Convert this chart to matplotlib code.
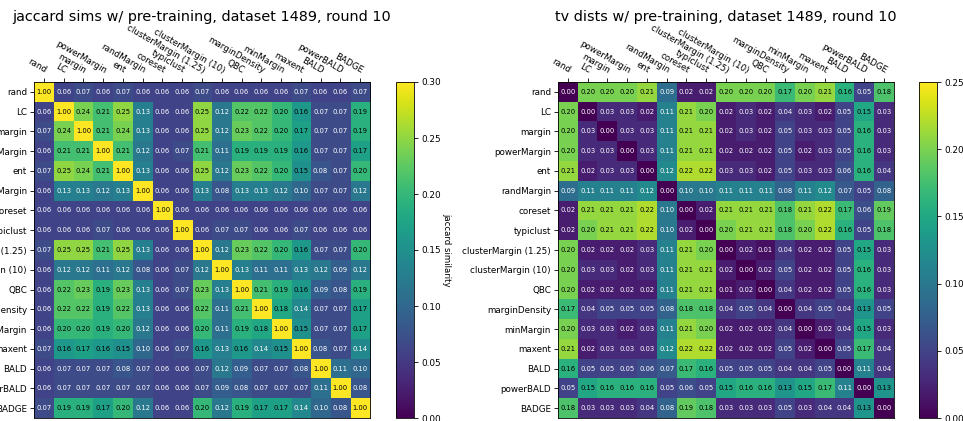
import numpy as np
import matplotlib
matplotlib.use("Agg")
import matplotlib.pyplot as plt

# sampling strategies (rows and columns of both heatmaps)
strategies = ["rand", "LC", "margin", "powerMargin", "ent", "randMargin",
              "coreset", "typiclust", "clusterMargin (1.25)", "clusterMargin (10)",
              "QBC", "marginDensity", "minMargin", "maxent", "BALD", "powerBALD",
              "BADGE"]

# pairwise jaccard similarity of the selected batches
jaccard = np.array([
    [1.00, 0.06, 0.07, 0.06, 0.07, 0.06, 0.06, 0.06, 0.07, 0.06, 0.06, 0.06, 0.06, 0.07, 0.06, 0.06, 0.07],
    [0.06, 1.00, 0.24, 0.21, 0.25, 0.13, 0.06, 0.06, 0.25, 0.12, 0.22, 0.22, 0.20, 0.16, 0.07, 0.07, 0.19],
    [0.07, 0.24, 1.00, 0.21, 0.24, 0.13, 0.06, 0.06, 0.25, 0.12, 0.23, 0.22, 0.20, 0.17, 0.07, 0.07, 0.19],
    [0.06, 0.21, 0.21, 1.00, 0.21, 0.12, 0.06, 0.07, 0.21, 0.11, 0.19, 0.19, 0.19, 0.16, 0.07, 0.07, 0.17],
    [0.07, 0.25, 0.24, 0.21, 1.00, 0.13, 0.06, 0.06, 0.25, 0.12, 0.23, 0.22, 0.20, 0.15, 0.08, 0.07, 0.20],
    [0.06, 0.13, 0.13, 0.12, 0.13, 1.00, 0.06, 0.06, 0.13, 0.08, 0.13, 0.13, 0.12, 0.10, 0.07, 0.07, 0.12],
    [0.06, 0.06, 0.06, 0.06, 0.06, 0.06, 1.00, 0.06, 0.06, 0.06, 0.06, 0.06, 0.06, 0.06, 0.06, 0.06, 0.06],
    [0.06, 0.06, 0.06, 0.07, 0.06, 0.06, 0.06, 1.00, 0.06, 0.07, 0.07, 0.06, 0.06, 0.07, 0.06, 0.06, 0.06],
    [0.07, 0.25, 0.25, 0.21, 0.25, 0.13, 0.06, 0.06, 1.00, 0.12, 0.23, 0.22, 0.20, 0.16, 0.07, 0.07, 0.20],
    [0.06, 0.12, 0.12, 0.11, 0.12, 0.08, 0.06, 0.07, 0.12, 1.00, 0.13, 0.11, 0.11, 0.13, 0.12, 0.09, 0.12],
    [0.06, 0.22, 0.23, 0.19, 0.23, 0.13, 0.06, 0.07, 0.23, 0.13, 1.00, 0.21, 0.19, 0.16, 0.09, 0.08, 0.19],
    [0.06, 0.22, 0.22, 0.19, 0.22, 0.13, 0.06, 0.06, 0.22, 0.11, 0.21, 1.00, 0.18, 0.14, 0.07, 0.07, 0.17],
    [0.06, 0.20, 0.20, 0.19, 0.20, 0.12, 0.06, 0.06, 0.20, 0.11, 0.19, 0.18, 1.00, 0.15, 0.07, 0.07, 0.17],
    [0.07, 0.16, 0.17, 0.16, 0.15, 0.10, 0.06, 0.07, 0.16, 0.13, 0.16, 0.14, 0.15, 1.00, 0.08, 0.07, 0.14],
    [0.06, 0.07, 0.07, 0.07, 0.08, 0.07, 0.06, 0.06, 0.07, 0.12, 0.09, 0.07, 0.07, 0.08, 1.00, 0.11, 0.10],
    [0.06, 0.07, 0.07, 0.07, 0.07, 0.07, 0.06, 0.06, 0.07, 0.09, 0.08, 0.07, 0.07, 0.07, 0.11, 1.00, 0.08],
    [0.07, 0.19, 0.19, 0.17, 0.20, 0.12, 0.06, 0.06, 0.20, 0.12, 0.19, 0.17, 0.17, 0.14, 0.10, 0.08, 1.00],
])

# pairwise total variation distance of the label distributions
tv_dist = np.array([
    [0.00, 0.20, 0.20, 0.20, 0.21, 0.09, 0.02, 0.02, 0.20, 0.20, 0.20, 0.17, 0.20, 0.21, 0.16, 0.05, 0.18],
    [0.20, 0.00, 0.03, 0.03, 0.02, 0.11, 0.21, 0.20, 0.02, 0.03, 0.02, 0.04, 0.03, 0.02, 0.05, 0.15, 0.03],
    [0.20, 0.03, 0.00, 0.03, 0.03, 0.11, 0.21, 0.21, 0.02, 0.03, 0.02, 0.05, 0.03, 0.03, 0.05, 0.16, 0.03],
    [0.20, 0.03, 0.03, 0.00, 0.03, 0.11, 0.21, 0.21, 0.02, 0.02, 0.02, 0.05, 0.02, 0.03, 0.05, 0.16, 0.03],
    [0.21, 0.02, 0.03, 0.03, 0.00, 0.12, 0.22, 0.22, 0.03, 0.03, 0.02, 0.05, 0.03, 0.03, 0.06, 0.16, 0.04],
    [0.09, 0.11, 0.11, 0.11, 0.12, 0.00, 0.10, 0.10, 0.11, 0.11, 0.11, 0.08, 0.11, 0.12, 0.07, 0.05, 0.08],
    [0.02, 0.21, 0.21, 0.21, 0.22, 0.10, 0.00, 0.02, 0.21, 0.21, 0.21, 0.18, 0.21, 0.22, 0.17, 0.06, 0.19],
    [0.02, 0.20, 0.21, 0.21, 0.22, 0.10, 0.02, 0.00, 0.20, 0.21, 0.21, 0.18, 0.20, 0.22, 0.16, 0.05, 0.18],
    [0.20, 0.02, 0.02, 0.02, 0.03, 0.11, 0.21, 0.20, 0.00, 0.02, 0.01, 0.04, 0.02, 0.02, 0.05, 0.15, 0.03],
    [0.20, 0.03, 0.03, 0.02, 0.03, 0.11, 0.21, 0.21, 0.02, 0.00, 0.02, 0.05, 0.02, 0.02, 0.05, 0.16, 0.03],
    [0.20, 0.02, 0.02, 0.02, 0.02, 0.11, 0.21, 0.21, 0.01, 0.02, 0.00, 0.04, 0.02, 0.02, 0.05, 0.16, 0.03],
    [0.17, 0.04, 0.05, 0.05, 0.05, 0.08, 0.18, 0.18, 0.04, 0.05, 0.04, 0.00, 0.04, 0.05, 0.04, 0.13, 0.05],
    [0.20, 0.03, 0.03, 0.02, 0.03, 0.11, 0.21, 0.20, 0.02, 0.02, 0.02, 0.04, 0.00, 0.02, 0.04, 0.15, 0.03],
    [0.21, 0.02, 0.03, 0.03, 0.03, 0.12, 0.22, 0.22, 0.02, 0.02, 0.02, 0.05, 0.02, 0.00, 0.05, 0.17, 0.04],
    [0.16, 0.05, 0.05, 0.05, 0.06, 0.07, 0.17, 0.16, 0.05, 0.05, 0.05, 0.04, 0.04, 0.05, 0.00, 0.11, 0.04],
    [0.05, 0.15, 0.16, 0.16, 0.16, 0.05, 0.06, 0.05, 0.15, 0.16, 0.16, 0.13, 0.15, 0.17, 0.11, 0.00, 0.13],
    [0.18, 0.03, 0.03, 0.03, 0.04, 0.08, 0.19, 0.18, 0.03, 0.03, 0.03, 0.05, 0.03, 0.04, 0.04, 0.13, 0.00],
])

W, H = 963, 421
fig = plt.figure(figsize=(W / 100, H / 100), dpi=100)


def px_axes(x0, y0, x1, y1):
    # axes from pixel box (top-left origin)
    return fig.add_axes([x0 / W, (H - y1) / H, (x1 - x0) / W, (y1 - y0) / H])


def heatmap(ax, cax, data, vmax, threshold, title, cbar_label=None):
    im = ax.imshow(data, cmap="viridis", vmin=0, vmax=vmax, aspect="auto")
    cb = fig.colorbar(im, cax=cax)
    cb.ax.tick_params(labelsize=6.4, length=3, width=0.6, pad=2)
    cb.outline.set_linewidth(0.6)
    if cbar_label:
        cb.ax.set_ylabel(cbar_label, rotation=-90, va="bottom", fontsize=6.2,
                         labelpad=1)

    n = len(strategies)
    ax.set_xticks(np.arange(n))
    ax.set_yticks(np.arange(n))
    ax.set_xticklabels(strategies, fontsize=6.3)
    ax.set_yticklabels(strategies, fontsize=6.3)
    ax.tick_params(top=True, bottom=False, labeltop=True, labelbottom=False,
                   length=3, width=0.6, pad=2)
    plt.setp(ax.get_xticklabels(), rotation=-30, ha="right",
             rotation_mode="anchor")
    for s in ax.spines.values():
        s.set_linewidth(0.6)

    for i in range(n):
        for j in range(n):
            c = "black" if data[i, j] > threshold else "white"
            ax.text(j, i, f"{data[i, j]:.2f}", ha="center", va="center",
                    color=c, fontsize=4.9)
    # fixed title height so it sits just above the slanted column labels
    ax.set_title(title, fontsize=10.4, y=1.183, pad=0)


ax1 = px_axes(34, 82, 370, 418)
cax1 = px_axes(396, 82, 414, 418)
heatmap(ax1, cax1, jaccard, 0.30, 0.145,
        "jaccard sims w/ pre-training, dataset 1489, round 10",
        "jaccard similarity")

ax2 = px_axes(558, 82, 894, 418)
cax2 = px_axes(919, 82, 937, 418)
heatmap(ax2, cax2, tv_dist, 0.25, 0.125,
        "tv dists w/ pre-training, dataset 1489, round 10")

fig.savefig("out.png", dpi=100)
